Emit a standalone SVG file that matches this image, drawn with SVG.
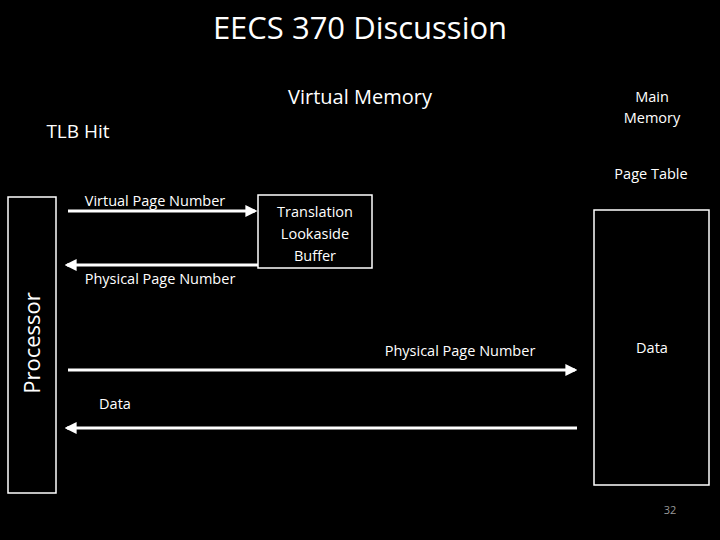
<svg xmlns="http://www.w3.org/2000/svg" width="720" height="540" viewBox="0 0 720 540">
<style>
text{font-family:"Open Sans","DejaVu Sans",sans-serif;fill:#fff;text-anchor:middle}
.s{font-size:14.5px}
.box{fill:none;stroke:#fff;stroke-width:1.5}
.ar{stroke:#fff;stroke-width:3;fill:none}
</style>
<defs><marker id="ah" viewBox="0 0 10 10" refX="8" refY="5" markerWidth="4" markerHeight="4" orient="auto"><path d="M0,0L10,5L0,10z" fill="#fff"/></marker></defs>
<rect width="720" height="540" fill="#000"/>
<text x="360" y="39" font-size="31">EECS 370 Discussion</text>
<text x="360" y="104" font-size="20">Virtual Memory</text>
<text x="78" y="138" font-size="19">TLB Hit</text>
<g id="processor"><rect class="box" x="8" y="197" width="48" height="296"/><text transform="translate(40,343) rotate(-90)" font-size="22">Processor</text></g>
<g id="tlb"><rect class="box" x="258" y="195" width="114" height="73"/><text class="s" x="315" y="217">Translation</text><text class="s" x="315" y="239">Lookaside</text><text class="s" x="315" y="261">Buffer</text></g>
<g id="memory"><text class="s" x="652" y="102">Main</text><text class="s" x="652" y="123">Memory</text><text class="s" x="651" y="179">Page Table</text><rect class="box" x="594" y="210" width="115" height="275"/><text class="s" x="652" y="353">Data</text></g>
<g id="connectors">
<line class="ar" x1="68" y1="211" x2="255" y2="211" marker-end="url(#ah)"/>
<line class="ar" x1="258" y1="265" x2="67" y2="265" marker-end="url(#ah)"/>
<line class="ar" x1="68" y1="370" x2="575" y2="370" marker-end="url(#ah)"/>
<line class="ar" x1="577" y1="428" x2="67" y2="428" marker-end="url(#ah)"/>
</g>
<text class="s" x="155" y="206">Virtual Page Number</text>
<text class="s" x="160" y="284">Physical Page Number</text>
<text class="s" x="460" y="356">Physical Page Number</text>
<text class="s" x="115" y="409">Data</text>
<text x="670" y="514" font-size="11" style="fill:#999">32</text>
</svg>
